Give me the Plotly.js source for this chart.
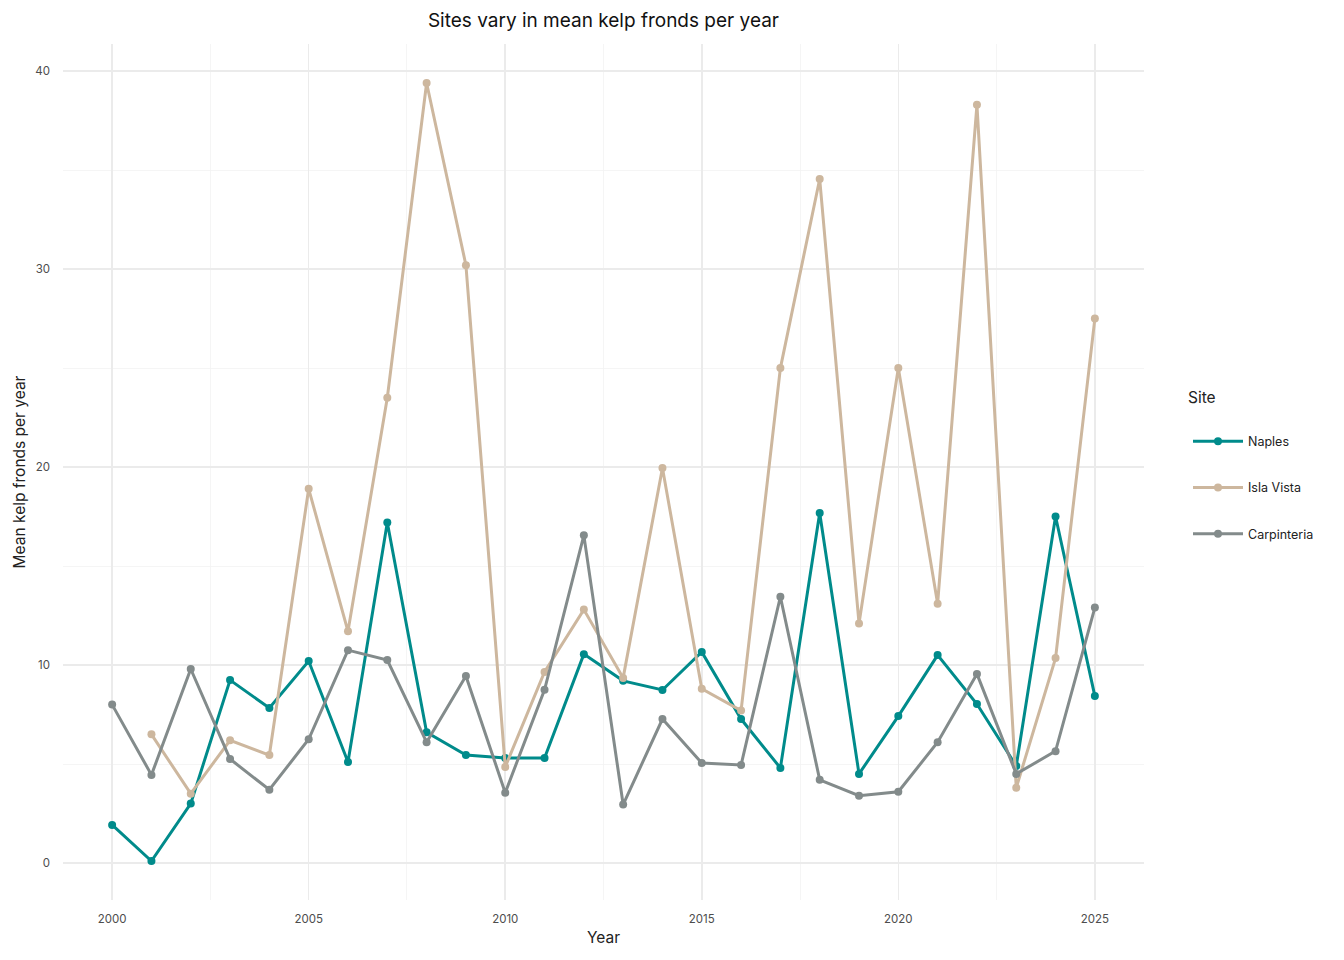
<!DOCTYPE html>
<html>
<head>
<meta charset="utf-8">
<script src="https://cdn.plot.ly/plotly-3.0.1.min.js"></script>
<style>html,body{margin:0;padding:0;background:#fff;}#chart{width:1344px;height:960px;}</style>
</head>
<body>
<div id="chart"></div>
<script>
const years = [2000,2001,2002,2003,2004,2005,2006,2007,2008,2009,2010,2011,2012,2013,2014,2015,2016,2017,2018,2019,2020,2021,2022,2023,2024,2025];
const naples = [1.92,0.1,3.0,9.24,7.83,10.2,5.1,17.2,6.6,5.45,5.3,5.3,10.55,9.2,8.74,10.66,7.27,4.8,17.68,4.5,7.42,10.5,8.03,4.9,17.5,8.43];
const islaVista = [null,6.5,3.5,6.2,5.45,18.9,11.7,23.5,39.4,30.2,4.85,9.65,12.8,9.35,19.95,8.8,7.7,25.0,34.55,12.1,25.0,13.1,38.3,3.8,10.35,27.5];
const carpinteria = [8.0,4.45,9.8,5.25,3.7,6.25,10.75,10.25,6.1,9.45,3.55,8.75,16.55,2.95,7.27,5.05,4.95,13.45,4.2,3.4,3.6,6.1,9.55,4.5,5.65,12.9];
const siteNames = ["Naples","Isla Vista","Carpinteria"];
const siteColors = ["#008B8B","#CDB79E","#838B8B"];
const xTicks = [2000,2005,2010,2015,2020,2025];
const yTicks = [0,10,20,30,40];

const series = [naples, islaVista, carpinteria];
const traces = series.map((vals, i) => ({
  x: years, y: vals, name: siteNames[i], type: 'scatter', mode: 'lines+markers',
  connectgaps: false, legendgroup: 'g' + i,
  line: {color: siteColors[i], width: 3},
  marker: {color: siteColors[i], size: 8}
}));

const FONT = 'Inter, "Open Sans", sans-serif';
const layout = {
  width: 1344, height: 960,
  paper_bgcolor: '#fff', plot_bgcolor: '#fff',
  margin: {l: 63, r: 200, t: 44, b: 60},
  font: {family: FONT, color: '#222'},
  title: {text: 'Sites vary in mean kelp fronds per year', x: 0.449, xanchor: 'center', y: 0.979, yanchor: 'middle', font: {size: 19, color: '#111', family: FONT}},
  xaxis: {
    range: [1998.75, 2026.25], tickvals: xTicks, ticktext: xTicks.map(String),
    showgrid: true, gridcolor: '#EBEBEB', gridwidth: 1.5, zeroline: false, showline: false, ticks: '',
    tickfont: {size: 11.5, color: '#4D4D4D'}, ticklabelstandoff: 10,
    minor: {dtick: 2.5, tick0: 2000, showgrid: true, gridcolor: '#F2F2F2', gridwidth: 0.8},
    title: {text: 'Year', font: {size: 15.5, color: '#222'}, standoff: 7}
  },
  yaxis: {
    range: [-1.87, 41.37], tickvals: yTicks, ticktext: yTicks.map(String),
    showgrid: true, gridcolor: '#EBEBEB', gridwidth: 1.5, zeroline: false, showline: false, ticks: '',
    tickfont: {size: 11.5, color: '#4D4D4D'}, ticklabelstandoff: 12,
    minor: {dtick: 5, tick0: 0, showgrid: true, gridcolor: '#F2F2F2', gridwidth: 0.8},
    title: {text: 'Mean kelp fronds per year', font: {size: 15.5, color: '#222'}, standoff: 5}
  },
  showlegend: true,
  legend: {
    x: 1.0407, xanchor: 'left', y: 0.553, yanchor: 'top',
    font: {size: 12.5, color: '#222'}, tracegroupgap: 27, itemwidth: 50,
    bgcolor: 'rgba(0,0,0,0)'
  },
  annotations: [{
    text: 'Site', xref: 'paper', yref: 'paper', x: 1.039, y: 0.587, xanchor: 'left', yanchor: 'middle',
    showarrow: false, font: {size: 15.5, color: '#222'}
  }],
  hovermode: false
};
Plotly.newPlot('chart', traces, layout, {displayModeBar: false, staticPlot: true});
</script>
</body>
</html>
